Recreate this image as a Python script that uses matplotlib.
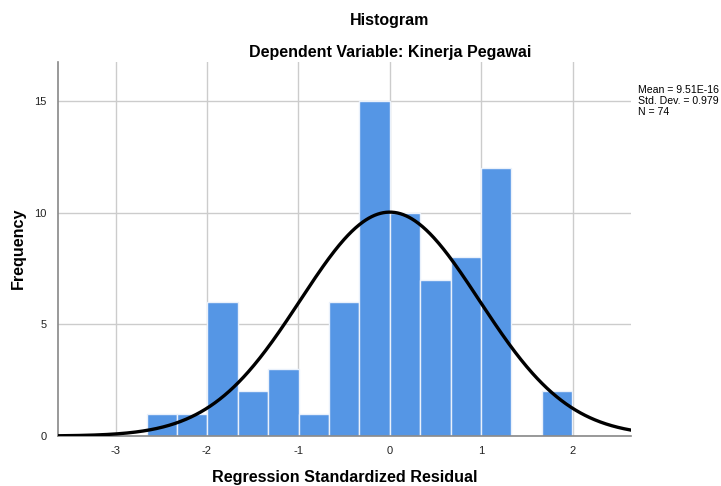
import numpy as np
import matplotlib
matplotlib.use("Agg")
import matplotlib.pyplot as plt

# Data
bin_start = -2.66
bin_width = 0.3325
counts = [1, 1, 6, 2, 3, 1, 6, 15, 10, 7, 8, 12, 0, 2]
mean_val = 9.51e-16
std_val = 0.979
n_val = 74
x_ticks = [-3, -2, -1, 0, 1, 2]
y_ticks = [0, 5, 10, 15]

plt.rcParams['font.family'] = ['Liberation Sans', 'DejaVu Sans']

fig = plt.figure(figsize=(7.21, 4.86), dpi=100)
ax = fig.add_axes([58/721, 50/486, (631-58)/721, (436-62)/486])

edges = bin_start + bin_width * np.arange(len(counts) + 1)
lefts = edges[:-1]
ax.bar(lefts, counts, width=bin_width, align='edge', color='#5596E5',
       edgecolor='#EAF1FB', linewidth=1.0, zorder=2)

xlim = (-3.63, 2.64)
xs = np.linspace(xlim[0], xlim[1], 600)
pdf = np.exp(-0.5 * ((xs - mean_val) / std_val) ** 2) / (std_val * np.sqrt(2 * np.pi))
ax.plot(xs, n_val * bin_width * pdf, color='black', linewidth=2.4, zorder=3)

ax.set_xlim(*xlim)
ax.set_ylim(0, 16.75)
ax.set_xticks(x_ticks)
ax.set_yticks(y_ticks)
ax.set_xticklabels([str(t) for t in x_ticks])
ax.grid(True, color='#CCCCCC', linewidth=1.0, zorder=0)
ax.set_axisbelow(True)
ax.tick_params(axis='x', length=0, labelsize=8, pad=7, colors='#222222')
ax.tick_params(axis='y', length=0, labelsize=8, pad=8, colors='#222222')
for s in ['top', 'right']:
    ax.spines[s].set_visible(False)
for s in ['left', 'bottom']:
    ax.spines[s].set_color('#888888')
    ax.spines[s].set_linewidth(1.2)

fig.text(345/721, 1 - 477/486, 'Regression Standardized Residual', ha='center', va='center',
         fontsize=11.6, fontweight='bold')
fig.text(18/721, 1 - 248/486, 'Frequency', ha='center', va='center', rotation=90,
         fontsize=11.6, fontweight='bold')

fig.text(390/721, 1 - 20/486, 'Histogram', ha='center', va='center', fontsize=11.5, fontweight='bold')
fig.text(390/721, 1 - 52/486, 'Dependent Variable: Kinerja Pegawai', ha='center', va='center',
         fontsize=11.5, fontweight='bold')

fig.text(638/721, 1 - 85/486, f'Mean = 9.51E-16\nStd. Dev. = {std_val}\nN = {n_val}',
         ha='left', va='top', fontsize=7.6, linespacing=1.1)

fig.savefig('out.png', dpi=100)
